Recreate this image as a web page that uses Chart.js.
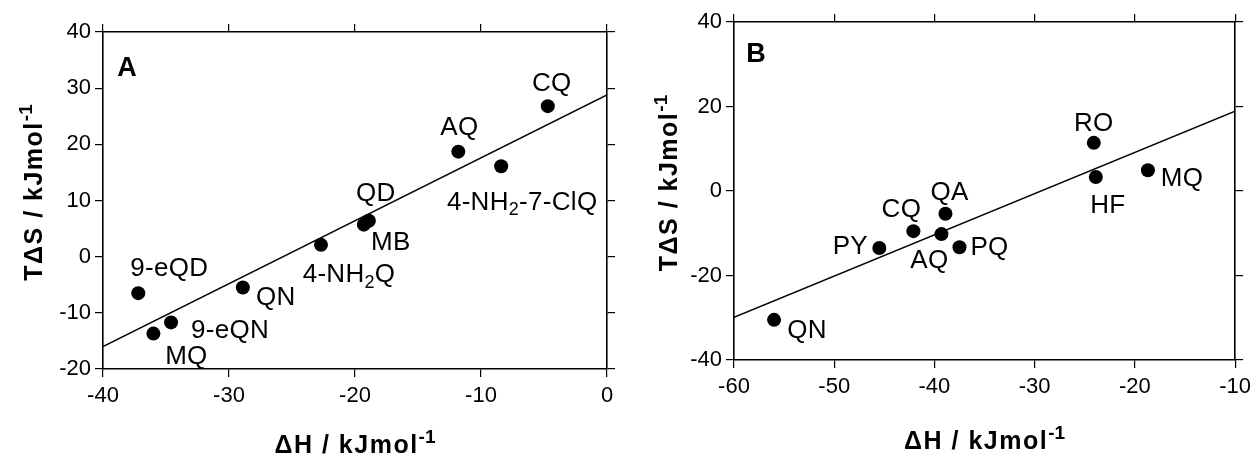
<!DOCTYPE html>
<html>
<head>
<meta charset="utf-8">
<script src="https://cdn.jsdelivr.net/npm/chart.js@4/dist/chart.umd.min.js"></script>
<style>
  body { margin: 0; background: #fff; width: 1257px; height: 459px; overflow: hidden; position: relative; }
  canvas { position: absolute; top: 0; }
  #chartA { left: 0; }
  #chartB { left: 640px; }
</style>
</head>
<body>
<canvas id="chartA" width="640" height="459"></canvas>
<canvas id="chartB" width="617" height="459"></canvas>
<script>
// panel A: enthalpy / entropy per compound
var namesA = ['9-eQD', 'MQ', '9-eQN', 'QN', '4-NH₂Q', 'MB', 'QD', 'AQ', '4-NH₂-7-ClQ', 'CQ'];
var dHA = [-37.2, -36.0, -34.6, -28.9, -22.7, -19.3, -18.9, -11.8, -8.4, -4.7];
var tdSA = [-6.5, -13.7, -11.7, -5.5, 2.1, 5.7, 6.4, 18.7, 16.1, 26.8];
var fitXA = [-40, 0];
var fitYA = [-16.0, 28.8];
var ticksXA = [-40, -30, -20, -10, 0];
var ticksYA = [-20, -10, 0, 10, 20, 30, 40];

// panel B
var namesB = ['QN', 'PY', 'CQ', 'QA', 'AQ', 'PQ', 'RO', 'HF', 'MQ'];
var dHB = [-56.0, -45.5, -42.1, -38.9, -39.3, -37.5, -24.1, -23.9, -18.7];
var tdSB = [-30.5, -13.5, -9.5, -5.4, -10.2, -13.3, 11.4, 3.3, 4.9];
var fitXB = [-60, -10];
var fitYB = [-29.9, 18.9];
var ticksXB = [-60, -50, -40, -30, -20, -10];
var ticksYB = [-40, -20, 0, 20, 40];

var xTitle = 'ΔH / kJmol⁻¹';
var yTitle = 'TΔS / kJmol⁻¹';

// where each name sits relative to its dot (px)
var offA = [[31, -27], [33, 21], [59, 6], [33, 8], [28, 28], [27, 16], [7, -29], [1, -26], [21, 34], [4, -25]];
var offB = [[33, 9], [-29, -3], [-12, -23], [4, -23], [-12, 25], [30, -2], [0, -21], [12, 27], [34, 6]];

var FONT = '"Liberation Sans", Arial, Helvetica, sans-serif';
var SUB = { '₂': '2' };
var SUP = { '⁻': '-', '¹': '1' };

// split a string into normal / subscript / superscript runs
function splitRich(str) {
    var parts = [];
    for (var ch of str) {
        var kind = SUB[ch] ? 'sub' : (SUP[ch] ? 'sup' : 'n');
        var c = SUB[ch] || SUP[ch] || ch;
        var last = parts[parts.length - 1];
        if (last && last.kind === kind) last.text += c;
        else parts.push({ kind: kind, text: c });
    }
    return parts;
}

// centered text with sub/superscripts, optionally rotated
function drawRich(ctx, str, x, y, size, weight, rotate, spacing) {
    var parts = splitRich(str);
    var total = 0;
    ctx.save();
    parts.forEach(function(p) {
        p.size = p.kind === 'n' ? size : Math.round(size * (p.kind === 'sup' ? 0.74 : 0.68));
        p.gap = p.kind === 'sup' ? 0 : (spacing || 0);
        ctx.letterSpacing = p.gap + 'px';
        ctx.font = weight + ' ' + p.size + 'px ' + FONT;
        p.w = ctx.measureText(p.text).width;
        total += p.w;
    });
    ctx.translate(x, y);
    if (rotate) ctx.rotate(-Math.PI / 2);
    ctx.fillStyle = '#000';
    ctx.textAlign = 'left';
    ctx.textBaseline = 'alphabetic';
    var cx = -total / 2;
    var base = size * 0.36;
    parts.forEach(function(p) {
        ctx.letterSpacing = p.gap + 'px';
        ctx.font = weight + ' ' + p.size + 'px ' + FONT;
        var dy = p.kind === 'sub' ? size * 0.22 : (p.kind === 'sup' ? -size * 0.4 : 0);
        ctx.fillText(p.text, cx, base + dy);
        cx += p.w;
    });
    ctx.restore();
}

function axisOpts(pos, min, max, tickVals, size, showLabels) {
    return {
        type: 'linear',
        position: pos,
        min: min,
        max: max,
        afterBuildTicks: function(s) { s.ticks = tickVals.map(function(v) { return { value: v }; }); },
        afterFit: function(s) {
            if (pos === 'left' || pos === 'right') s.width = size;
            else s.height = size;
        },
        ticks: { display: showLabels, color: '#000', padding: 4, maxRotation: 0, font: { family: FONT, size: 22 } },
        grid: { drawOnChartArea: false, drawTicks: true, tickLength: 8, color: '#000', lineWidth: 1.2 },
        border: { display: true, color: '#000', width: 1.6 },
        title: { display: false }
    };
}

function makePanel(id, names, xs, ys, fitX, fitY, tX, tY, offs, letter, g) {
    var pts = xs.map(function(x, i) { return { x: x, y: ys[i] }; });
    var line = fitX.map(function(x, i) { return { x: x, y: fitY[i] }; });
    var xo = axisOpts('bottom', tX[0], tX[tX.length - 1], tX, g.bottom, true);
    xo.ticks.padding = 6;
    var yo = axisOpts('left', tY[0], tY[tY.length - 1], tY, g.left, true);
    return new Chart(document.getElementById(id), {
        type: 'scatter',
        data: {
            datasets: [{
                data: pts,
                pointRadius: 7,
                pointHoverRadius: 7,
                backgroundColor: '#000',
                borderWidth: 0
            }, {
                data: line,
                showLine: true,
                borderColor: '#000',
                borderWidth: 1.5,
                pointRadius: 0
            }]
        },
        options: {
            responsive: false,
            animation: false,
            devicePixelRatio: 1,
            layout: { padding: 0 },
            plugins: { legend: { display: false }, tooltip: { enabled: false } },
            scales: {
                x: xo,
                x2: axisOpts('top', tX[0], tX[tX.length - 1], tX, g.top, false),
                y: yo,
                y2: axisOpts('right', tY[0], tY[tY.length - 1], tY, g.right, false)
            }
        },
        plugins: [{
            id: 'names',
            afterDatasetsDraw: function(chart) {
                var ctx = chart.ctx, sx = chart.scales.x, sy = chart.scales.y, a = chart.chartArea;
                names.forEach(function(n, i) {
                    var px = sx.getPixelForValue(xs[i]) + offs[i][0];
                    var py = sy.getPixelForValue(ys[i]) + offs[i][1];
                    drawRich(ctx, n, px, py, 26, 'normal', false, 0.3);
                });
                drawRich(ctx, letter, a.left + g.letter[0], a.top + g.letter[1], 27, 'bold', false);
                drawRich(ctx, xTitle, (a.left + a.right) / 2, g.xTitleY, 25, 'bold', false, 1.5);
                drawRich(ctx, yTitle, g.yTitleX, (a.top + a.bottom) / 2 - 8, 25, 'bold', true, 1.5);
            }
        }]
    });
}

makePanel('chartA', namesA, dHA, tdSA, fitXA, fitYA, ticksXA, ticksYA, offA, 'A',
    { left: 103, right: 33, top: 32, bottom: 90, letter: [24, 34], xTitleY: 444, yTitleX: 33 });
makePanel('chartB', namesB, dHB, tdSB, fitXB, fitYB, ticksXB, ticksYB, offB, 'B',
    { left: 94, right: 18, top: 22, bottom: 99, letter: [22, 30], xTitleY: 440, yTitleX: 28 });
</script>
</body>
</html>
